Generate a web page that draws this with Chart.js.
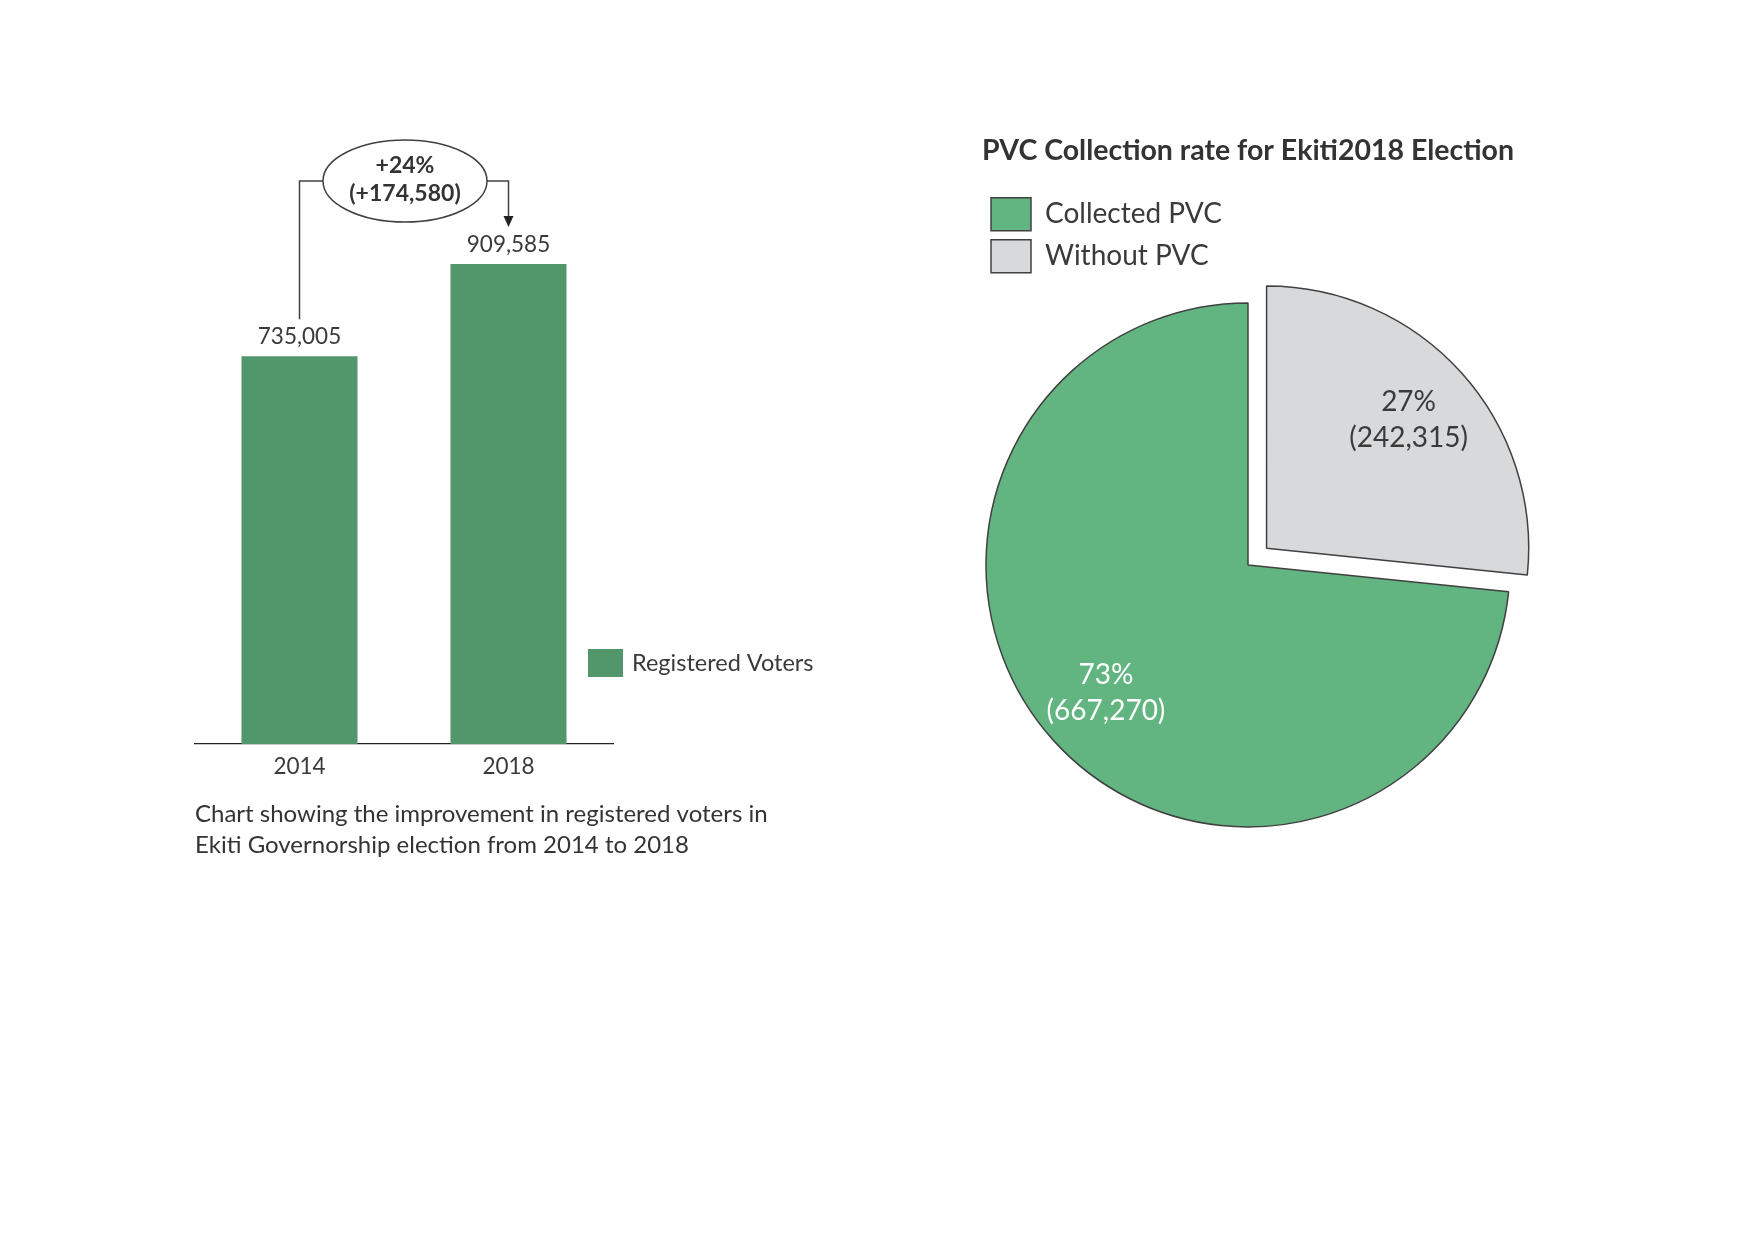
<!DOCTYPE html>
<html lang="en">
<head>
  <meta charset="UTF-8">
  <title>Ekiti Registered Voters and PVC Collection</title>
  <script src="https://cdn.jsdelivr.net/npm/chart.js"></script>
  <style>
    body {
      margin: 0;
      background: #ffffff;
      width: 1752px;
      height: 1256px;
      position: relative;
      overflow: hidden;
    }
    canvas {
      position: absolute;
    }
    #barChart {
      left: 0px;
      top: 0px;
    }
    #pieChart {
      left: 930px;
      top: 100px;
    }
  </style>
</head>
<body>
  <canvas id="barChart" width="880" height="900"></canvas>
  <canvas id="pieChart" width="620" height="860"></canvas>

  <script>
    // registered voters
    let years = ["2014", "2018"];
    let registeredVoters = [735005, 909585];
    let barSeriesName = "Registered Voters";
    let captionLines = [
      "Chart showing the improvement in registered voters in",
      "Ekiti Governorship election from 2014 to 2018"
    ];

    // PVC collection
    let pvcLabels = ["Collected PVC", "Without PVC"];
    let pvcValues = [667270, 242315];
    let pieTitle = "PVC Collection rate for Ekiti2018 Election";

    let barGreen = "#52966b";
    let pieGreen = "#62b580";
    let pieGrey = "#d8d9db";
    let darkText = "#3a3a3a";
    let lineColor = "#404040";

    Chart.defaults.font.family = "Lato, 'Open Sans', sans-serif";
    Chart.defaults.color = darkText;

    function fmt(n) {
      return n.toLocaleString("en-US");
    }

    // value labels, change bubble, legend and caption for the bar chart
    const barExtras = {
      id: "barExtras",
      afterDatasetsDraw(chart) {
        let ctx = chart.ctx;
        let area = chart.chartArea;
        let bars = chart.getDatasetMeta(0).data;
        let values = chart.data.datasets[0].data;
        ctx.save();

        ctx.fillStyle = darkText;
        ctx.font = "22.5px Lato";
        ctx.textAlign = "center";
        ctx.textBaseline = "middle";
        bars.forEach((b, i) => {
          ctx.fillText(fmt(values[i]), b.x, b.y - 19);
        });

        // change between the two years
        let b0 = bars[0], b1 = bars[1];
        let diff = values[1] - values[0];
        let pct = Math.round(diff / values[0] * 100);
        let cx = (b0.x + b1.x) / 2 + 1;
        let cy = b1.y - 83;
        let rx = 82, ry = 41;

        ctx.strokeStyle = lineColor;
        ctx.lineWidth = 1.5;
        ctx.beginPath();
        ctx.ellipse(cx, cy, rx, ry, 0, 0, Math.PI * 2);
        ctx.stroke();

        ctx.beginPath();
        ctx.moveTo(b0.x, b0.y - 37);
        ctx.lineTo(b0.x, cy);
        ctx.lineTo(cx - rx, cy);
        ctx.moveTo(cx + rx, cy);
        ctx.lineTo(b1.x, cy);
        ctx.lineTo(b1.x, b1.y - 46);
        ctx.stroke();

        ctx.fillStyle = "#222";
        ctx.beginPath();
        ctx.moveTo(b1.x - 5, b1.y - 48);
        ctx.lineTo(b1.x + 5, b1.y - 48);
        ctx.lineTo(b1.x, b1.y - 37);
        ctx.closePath();
        ctx.fill();

        ctx.fillStyle = "#333";
        ctx.font = "bold 23px Lato";
        ctx.fillText("+" + pct + "%", cx, cy - 15);
        ctx.fillText("(+" + fmt(diff) + ")", cx, cy + 13);

        // legend
        let lx = area.right - 25;
        let ly = area.bottom - 95;
        ctx.fillStyle = chart.data.datasets[0].backgroundColor;
        ctx.fillRect(lx, ly, 35, 28);
        ctx.fillStyle = darkText;
        ctx.font = "23.5px Lato";
        ctx.textAlign = "left";
        ctx.fillText(chart.data.datasets[0].label, lx + 44, ly + 14);

        // caption under the axis
        ctx.fillStyle = "#333";
        ctx.font = "24px Lato";
        captionLines.forEach((line, i) => {
          ctx.fillText(line, area.left, area.bottom + 70.5 + i * 30.5);
        });
        ctx.restore();
      }
    };

    // the chartArea legend loses its top during layout, put it back
    const legendInArea = {
      id: "legendInArea",
      afterLayout(chart) {
        let lg = chart.legend;
        if (!lg) return;
        let h = lg.height;
        lg.top = chart.chartArea.top;
        lg.bottom = lg.top + h;
      }
    };

    // percent and count labels inside the slices
    const pieLabels = {
      id: "pieLabels",
      afterDatasetsDraw(chart) {
        let ctx = chart.ctx;
        let values = chart.data.datasets[0].data;
        let total = values.reduce((a, b) => a + b, 0);
        let colors = ["#ffffff", darkText];
        ctx.save();
        ctx.font = "28px Lato";
        ctx.textAlign = "center";
        ctx.textBaseline = "middle";
        chart.getDatasetMeta(0).data.forEach((arc, i) => {
          let p = arc.getProps(["x", "y", "startAngle", "endAngle", "outerRadius"], true);
          let mid = (p.startAngle + p.endAngle) / 2;
          let dist = (arc.options.offset || 0) / 4 + p.outerRadius * 0.73;
          let x = p.x + Math.cos(mid) * dist;
          let y = p.y + Math.sin(mid) * dist;
          ctx.fillStyle = colors[i];
          ctx.fillText(Math.round(values[i] / total * 100) + "%", x, y - 18);
          ctx.fillText("(" + fmt(values[i]) + ")", x, y + 18);
        });
        ctx.restore();
      }
    };

    new Chart(document.getElementById("barChart"), {
      type: "bar",
      data: {
        labels: years,
        datasets: [{
          label: barSeriesName,
          data: registeredVoters,
          backgroundColor: barGreen,
          borderWidth: 0,
          categoryPercentage: 1,
          barPercentage: 0.555
        }]
      },
      options: {
        responsive: false,
        animation: false,
        layout: {
          padding: { left: 195, right: 267, top: 216.3, bottom: 116 }
        },
        plugins: {
          legend: { display: false },
          tooltip: { enabled: false }
        },
        scales: {
          x: {
            grid: { display: false, drawTicks: false },
            border: { display: true, color: "#222", width: 1.3 },
            ticks: { font: { size: 22.5 }, color: darkText, padding: 9 },
            afterFit(scale) {
              scale.height = 40;
            }
          },
          y: {
            display: false,
            min: 0,
            max: 1000000
          }
        }
      },
      plugins: [barExtras]
    });

    let pvcTotal = pvcValues.reduce((a, b) => a + b, 0);

    new Chart(document.getElementById("pieChart"), {
      type: "pie",
      data: {
        labels: pvcLabels,
        datasets: [{
          data: pvcValues,
          backgroundColor: [pieGreen, pieGrey],
          borderColor: lineColor,
          borderWidth: 1.5,
          offset: [0, 100]
        }]
      },
      options: {
        responsive: false,
        animation: false,
        // the grey slice sits between 12 o'clock and its own share
        rotation: 360 * pvcValues[1] / pvcTotal,
        radius: 262,
        layout: {
          padding: { left: 52, right: 36, top: 33, bottom: 19 }
        },
        plugins: {
          title: {
            display: true,
            text: pieTitle,
            color: "#333",
            font: { size: 29, weight: "bold" },
            padding: { top: 0, bottom: 21 }
          },
          legend: {
            position: "chartArea",
            align: "start",
            labels: {
              boxWidth: 40,
              boxHeight: 33,
              padding: 9,
              color: darkText,
              font: { size: 28 }
            }
          },
          tooltip: { enabled: false }
        }
      },
      plugins: [pieLabels, legendInArea]
    });
  </script>
</body>
</html>
